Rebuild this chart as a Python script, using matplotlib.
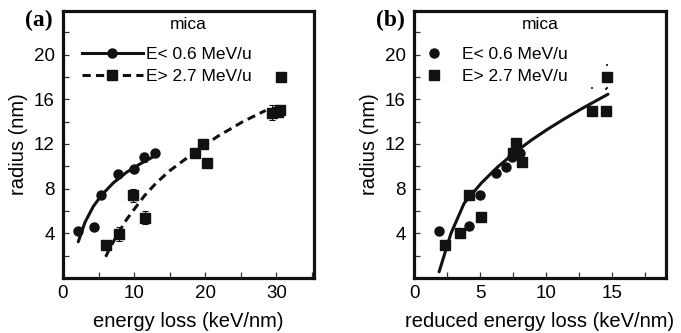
import matplotlib
matplotlib.use("Agg")
import matplotlib.pyplot as plt
from matplotlib.lines import Line2D
from matplotlib.ticker import MultipleLocator

plt.rcParams['font.family'] = ['Liberation Sans', 'DejaVu Sans']

# panel (a): radius vs energy loss
a_low_x = [2.1, 4.4, 5.3, 7.7, 10.0, 11.4, 13.0]
a_low_y = [4.2, 4.6, 7.4, 9.3, 9.8, 10.8, 11.2]
a_low_err = [0, 0, 0, 0, 0, 0.4, 0]
a_high_x = [6.1, 7.9, 9.8, 11.6, 18.6, 19.7, 20.2, 29.4, 30.2, 30.5, 30.7]
a_high_y = [2.95, 3.95, 7.4, 5.4, 11.2, 12.0, 10.3, 14.8, 14.9, 15.0, 18.0]
a_high_err = [0, 0.6, 0.6, 0.6, 0, 0, 0, 0.7, 0.5, 0, 0]
# fit curves
a_fit_low_x = [2.15, 3.1, 4.25, 5.4, 7.05, 8.9, 10.8, 13.1]
a_fit_low_y = [3.25, 5.0, 6.4, 7.4, 8.5, 9.45, 10.2, 11.0]
a_fit_high_x = [6.0, 6.6, 7.75, 8.9, 10.3, 11.5, 13.1, 15.0, 16.9, 19.5, 21.8, 23.7, 25.3, 26.9, 28.5]
a_fit_high_y = [1.9, 2.7, 4.0, 5.2, 6.4, 7.4, 8.5, 9.6, 10.5, 11.7, 12.7, 13.4, 14.0, 14.5, 15.0]

# panel (b): radius vs reduced energy loss
b_low_x = [1.9, 4.2, 5.0, 6.2, 7.0, 7.4, 8.05]
b_low_y = [4.2, 4.7, 7.4, 9.4, 9.9, 10.8, 11.2]
b_high_x = [2.35, 3.5, 4.15, 5.1, 7.5, 7.7, 8.2, 13.5, 14.55, 14.6]
b_high_y = [3.0, 4.0, 7.4, 5.5, 11.2, 12.05, 10.4, 14.95, 14.95, 18.0]
b_high_err_lo = [0, 0, 0, 0, 0, 0, 0, 0, 0, 0.95]
b_high_err_hi = [0, 0, 0, 0, 0, 0, 0, 2.05, 1.95, 1.05]
b_fit_x = [1.9, 2.8, 3.8, 5.1, 6.3, 7.6, 8.9, 10.1, 11.4, 12.7, 13.7, 14.7]
b_fit_y = [0.56, 4.0, 6.7, 8.5, 9.9, 11.2, 12.35, 13.3, 14.25, 15.15, 15.8, 16.45]

y_label = 'radius (nm)'
legend_labels = ['E< 0.6 MeV/u', 'E> 2.7 MeV/u']

fig = plt.figure(figsize=(6.81, 3.33), dpi=100)
ax1 = fig.add_axes([0.0925, 0.165, 0.3686, 0.802])
ax2 = fig.add_axes([0.608, 0.165, 0.370, 0.802])

dash = (0, (2.7, 1.7))
ink = '#111111'

# --- panel (a)
ax1.plot(a_fit_low_x, a_fit_low_y, color=ink, lw=2.2, solid_capstyle='round')
ax1.plot(a_fit_high_x, a_fit_high_y, color=ink, lw=2.2, linestyle=dash)
ax1.errorbar(a_low_x, a_low_y, yerr=a_low_err, fmt='o', color=ink, ms=6.5,
             elinewidth=0.8, capsize=2, capthick=0.8)
ax1.errorbar(a_high_x, a_high_y, yerr=a_high_err, fmt='s', color=ink, ms=7.5,
             elinewidth=0.8, capsize=2, capthick=0.8)
ax1.set_xlim(0, 35.3)
ax1.set_xticks([0, 10, 20, 30])
ax1.xaxis.set_minor_locator(MultipleLocator(5))
ax1.set_xlabel('energy loss (keV/nm)', fontsize=14.5, labelpad=7)
h1 = [Line2D([], [], color=ink, lw=2.2, marker='o', ms=6.5),
      Line2D([], [], color=ink, lw=2.2, linestyle=dash, marker='s', ms=7.5)]
ax1.legend(h1, legend_labels, loc='upper left', bbox_to_anchor=(0.075, 0.865),
           frameon=False, fontsize=12.5, handlelength=3.5, handletextpad=0.2,
           borderpad=0, borderaxespad=0, labelspacing=0.4)

# --- panel (b)
ax2.plot(b_fit_x, b_fit_y, color=ink, lw=2.2, solid_capstyle='round')
ax2.plot(b_low_x, b_low_y, 'o', color=ink, ms=6.5)
ax2.errorbar(b_high_x, b_high_y, yerr=[b_high_err_lo, b_high_err_hi], fmt='s', color=ink,
             ms=7.5, elinewidth=0, capsize=0.6, capthick=1.2)
ax2.set_xlim(0, 19.1)
ax2.set_xticks([0, 5, 10, 15])
ax2.xaxis.set_minor_locator(MultipleLocator(2.5))
ax2.set_xlabel('reduced energy loss (keV/nm)', fontsize=14.5, labelpad=7)
h2 = [Line2D([], [], color=ink, lw=0, marker='o', ms=6.5),
      Line2D([], [], color=ink, lw=0, marker='s', ms=7.5)]
ax2.legend(h2, legend_labels, loc='upper left', bbox_to_anchor=(0.045, 0.865),
           frameon=False, fontsize=12.5, handlelength=1.0, handletextpad=1.1,
           borderpad=0, borderaxespad=0, labelspacing=0.4)

for ax, tag in [(ax1, '(a)'), (ax2, '(b)')]:
    ax.set_ylim(0, 23.9)
    ax.set_yticks([4, 8, 12, 16, 20])
    ax.yaxis.set_minor_locator(MultipleLocator(2))
    ax.set_ylabel(y_label, fontsize=14.5, labelpad=4)
    ax.tick_params(which='both', direction='in', labelsize=13.5, width=0.9, color='#333333')
    ax.tick_params(which='both', length=4)
    ax.tick_params(axis='x', pad=5)
    ax.tick_params(axis='y', pad=6)
    for s in ax.spines.values():
        s.set_linewidth(2.3)
        s.set_color(ink)
    ax.text(0.5, 0.948, 'mica', transform=ax.transAxes, ha='center', va='center', fontsize=12.5)
    ax.text(-0.095, 0.963, tag, transform=ax.transAxes, ha='center', va='center',
            fontsize=17, fontweight='bold', family='Liberation Serif')

fig.savefig('out.png', dpi=100)
